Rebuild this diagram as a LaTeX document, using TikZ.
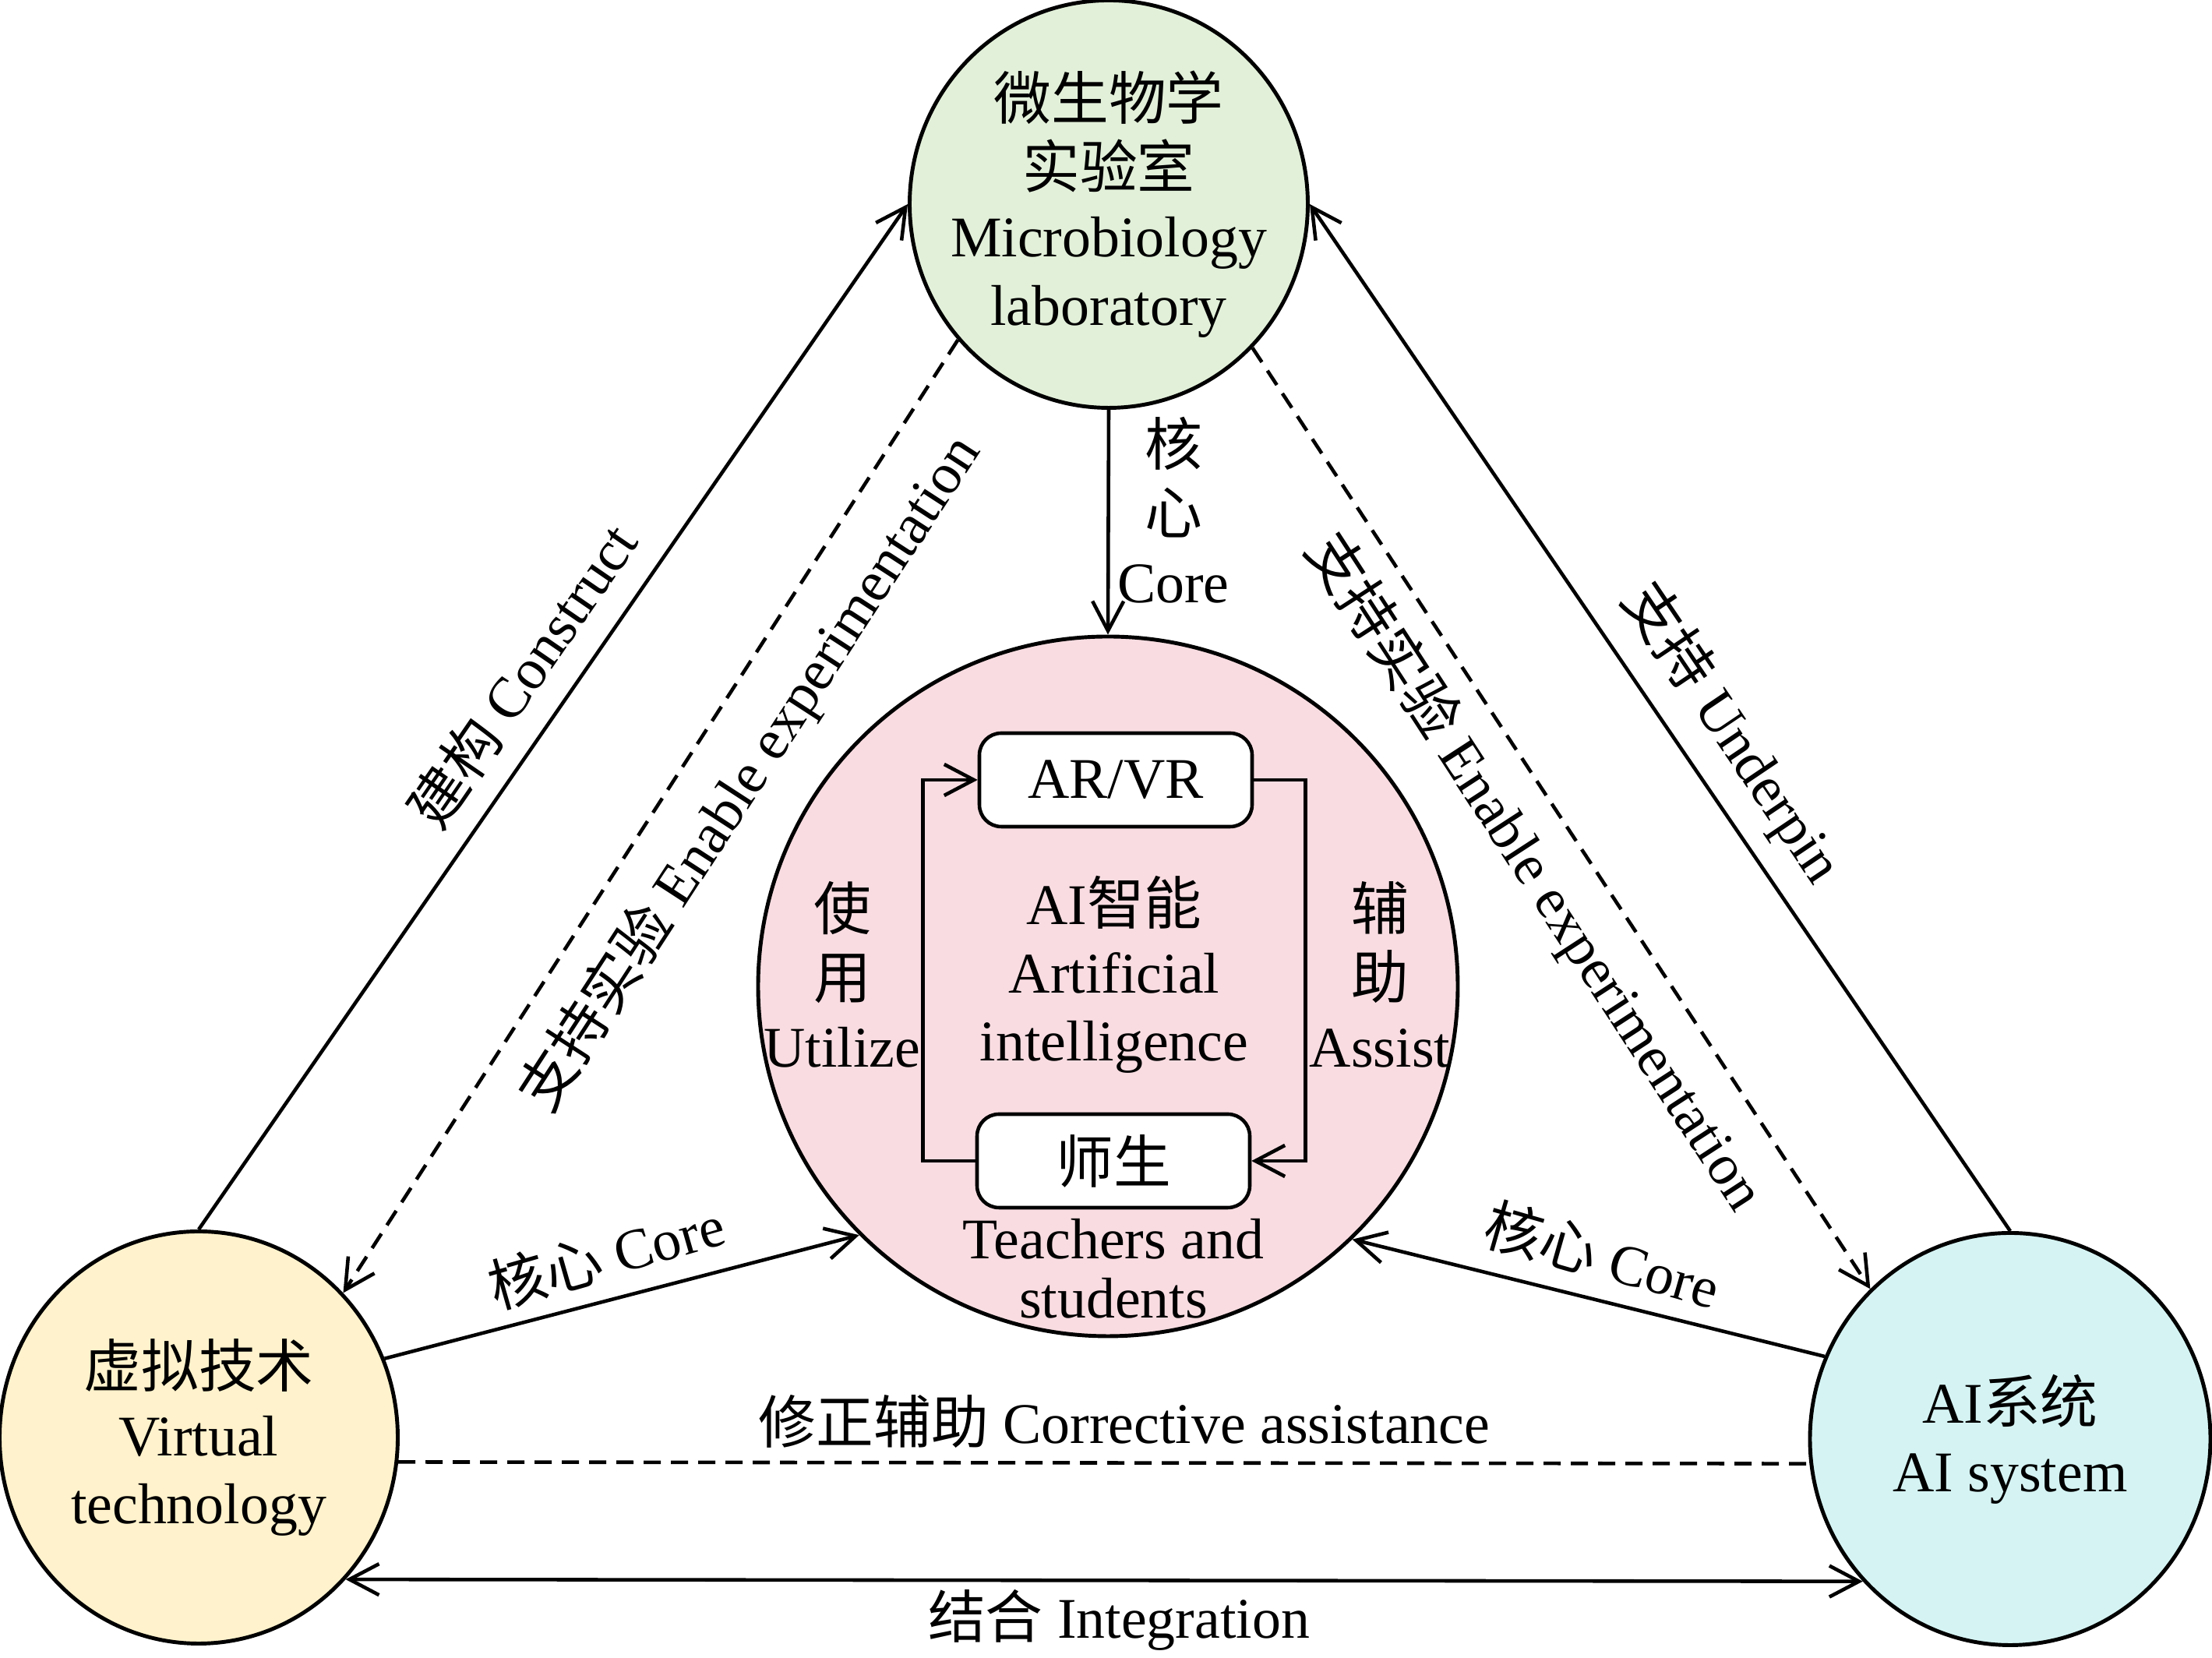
\documentclass[tikz,border=0pt]{standalone}
\usepackage{fontspec}
\setmainfont{Liberation Serif}
\newfontfamily\cjk{Noto Sans CJK SC}
\usepackage{tikz}
\usetikzlibrary{shapes.geometric, arrows.meta, positioning}
\definecolor{labgreen}{HTML}{E2F0D9}
\definecolor{corepink}{HTML}{F8DCE1}
\definecolor{virtyellow}{HTML}{FFF2CC}
\definecolor{aicyan}{HTML}{D5F3F3}
\newcommand{\zh}[1]{{\cjk #1}}

\begin{document}
\begin{tikzpicture}[node distance=1.5cm, font=\fontsize{21}{25}\selectfont]
\tikzstyle{hub} = [ellipse, draw, line width=1.4pt, align=center, inner sep=-5mm]
\tikzstyle{box} = [rectangle, rounded corners=8pt, minimum width=3.5cm, minimum height=1.2cm, text centered, draw, line width=1.3pt, fill=white]
\tikzstyle{arr} = [line width=1.3pt, -{Straight Barb[length=3.8mm,width=4mm]}]
\tikzstyle{twoway} = [line width=1.3pt, {Straight Barb[length=3.8mm,width=4mm]}-{Straight Barb[length=3.8mm,width=4mm]}]
\tikzstyle{dashline} = [dash pattern=on 2.2mm off 1.3mm]
\tikzstyle{lbl} = [align=center, inner sep=1pt]

\useasboundingbox (0,0) rectangle (28.39,21.28);

\node (lab) [hub, fill=labgreen, minimum width=5.11cm, minimum height=5.23cm] at (14.23,18.66) {\zh{微生物学}\\\zh{实验室}\\Microbiology\\laboratory};
\node (core) [hub, fill=corepink, minimum width=8.98cm, minimum height=8.98cm] at (14.22,8.62) {};
\node (vt) [hub, fill=virtyellow, minimum width=5.11cm, minimum height=5.29cm] at (2.55,2.83) {\zh{虚拟技术}\\Virtual\\technology};
\node (ai) [hub, fill=aicyan, minimum width=5.14cm, minimum height=5.29cm] at (25.80,2.81) {AI\zh{系统}\\AI system};

% Inner loop
\node (arvr) [box, above of=core, yshift=1.15cm, xshift=0.1cm] {AR/VR};
\node (ts) [box, below of=core, yshift=-0.74cm, xshift=0.07cm] {\zh{师生}};
\node (tstext) [lbl, below of=ts, yshift=0.12cm, font=\fontsize{21}{21.5}\selectfont] {Teachers and\\students};
\node (aitext) [lbl] at (14.30,8.77) {AI\zh{智能}\\Artificial\\intelligence};
\node (use) [lbl] at (10.81,8.77) {\zh{使}\\\zh{用}\\Utilize};
\node (assist) [lbl] at (17.71,8.77) {\zh{辅}\\\zh{助}\\Assist};
\draw [arr] (ts.west) -- ++(-0.67,0) |- (arvr.west);
\draw [arr] (arvr.east) -- ++(0.66,0) |- (ts.east);

% Outer links
\draw [arr] (vt.north) -- (lab.west);
\draw [arr] (ai.north) -- (lab.east);
\draw [arr, dashline] (lab.222.7) -- (vt.45.6);
\draw [arr, dashline] (lab.315) -- (ai.133.6);
\draw [arr] (lab.south) -- (core.north);
\draw [arr] (vt.23.4) -- (core.225.2);
\draw [arr] (ai.156) -- (core.314.8);
\draw [dashline, line width=1.3pt] (vt.-7.7) -- (ai.187.7);
\draw [twoway] (vt.-44.7) -- (ai.224.7);

% Link labels
\node (construct) [lbl, rotate=55.5] at (6.70,12.62) {\zh{建构} Construct};
\node (enableL) [lbl, rotate=57] at (9.63,11.36) {\zh{支持实验} Enable experimentation};
\node (enableR) [lbl, rotate=-57] at (19.70,10.09) {\zh{支持实验} Enable experimentation};
\node (underpin) [lbl, rotate=-56] at (22.23,11.87) {\zh{支持} Underpin};
\node (coretop) [lbl] at (15.06,14.73) {\zh{核}\\\zh{心}\\Core};
\node (coreL) [lbl, rotate=16] at (7.78,5.17) {\zh{核心} Core};
\node (coreR) [lbl, rotate=-16] at (20.57,5.17) {\zh{核心} Core};
\node (corr) [lbl] at (14.43,3.03) {\zh{修正辅助} Corrective assistance};
\node (integ) [lbl] at (14.36,0.49) {\zh{结合} Integration};

\end{tikzpicture}
\end{document}
